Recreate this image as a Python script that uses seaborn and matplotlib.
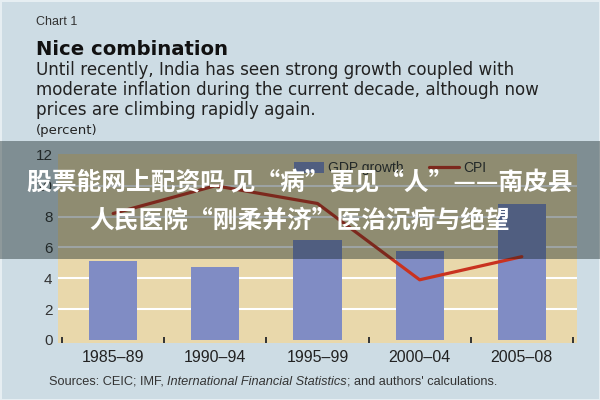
import matplotlib
matplotlib.use("Agg")
import matplotlib.pyplot as plt
from matplotlib.patches import Rectangle, Patch
from matplotlib.lines import Line2D
import seaborn as sns
import pandas as pd
import numpy as np

# ---- data ----
periods = ["1985–89", "1990–94", "1995–99", "2000–04", "2005–08"]
gdp_growth = [5.15, 4.7, 6.5, 5.75, 8.8]
cpi = [8.2, 10.0, 8.85, 3.9, 5.4]
y_ticks = [0, 2, 4, 6, 8, 10, 12]

chart_label = "Chart 1"
title = "Nice combination"
subtitle = ["Until recently, India has seen strong growth coupled with",
            "moderate inflation during the current decade, although now",
            "prices are climbing rapidly again."]
unit_label = "(percent)"
overlay_lines = ["股票能网上配资吗 见“病”更见“人”——南皮县",
                 "人民医院“刚柔并济”医治沉疴与绝望"]

BG = "#cddce4"
PLOT_BG = "#e9d8ab"
BAR = "#808cc4"
LINE = "#c9321f"
TXT = "#222222"

sns.set_theme(style="white")
plt.rcParams["font.family"] = ["Liberation Sans", "DejaVu Sans"]

df = pd.DataFrame({"period": periods, "gdp": gdp_growth, "cpi": cpi})

fig = plt.figure(figsize=(6, 4), dpi=100)
fig.patch.set_facecolor(BG)
fig.patch.set_edgecolor("#e6eef2")
fig.patch.set_linewidth(2)

ax = fig.add_axes([58 / 600, (400 - 343) / 400, 519 / 600, 189 / 400])
ax.set_facecolor(PLOT_BG)

sns.barplot(data=df, x="period", y="gdp", color=BAR, width=0.47,
            saturation=1, ax=ax, zorder=3, edgecolor="none", linewidth=0)
sns.lineplot(x=np.arange(len(periods)), y=df["cpi"], color=LINE,
             linewidth=2.3, ax=ax, zorder=4)

ax.set_xlim(-0.54, 4.54)
ax.set_ylim(-0.2, 12.06)
ax.set_yticks(y_ticks)
ax.set_yticklabels([str(v) for v in y_ticks])
ax.set_xlabel("")
ax.set_ylabel("")
for s in ax.spines.values():
    s.set_visible(False)

for v in y_ticks[1:-1]:
    ax.axhline(v, color="white", linewidth=1.5, zorder=1)

ax.tick_params(axis="y", length=0, pad=4, labelsize=11, labelcolor="#333333")
ax.tick_params(axis="x", which="major", length=0, pad=5, labelsize=11.5,
               labelcolor=TXT)
ax.set_xticks(np.arange(-0.5, len(periods)), minor=True)
ax.tick_params(axis="x", which="minor", direction="in", length=4, width=1.4,
               color="#333333", bottom=True)
ax.grid(False)

handles = [Patch(facecolor=BAR, edgecolor="none"),
           Line2D([0], [0], color=LINE, linewidth=2.3)]
leg = ax.legend(handles, ["GDP growth", "CPI"], ncol=2, frameon=False,
                loc="center", bbox_to_anchor=(0.64, 0.925), fontsize=10,
                handlelength=2.2, handleheight=0.8, handletextpad=0.3,
                columnspacing=1.8)
for t in leg.get_texts():
    t.set_color("#333333")

# ---- header text ----
fig.text(36 / 600, 1 - 22 / 400, chart_label, fontsize=9, color="#333333",
         va="center", ha="left")
fig.text(36 / 600, 1 - 55 / 400, title, fontsize=14.1, fontweight="bold",
         color="#111111", va="baseline", ha="left", family="DejaVu Sans")
for i, line in enumerate(subtitle):
    fig.text(36 / 600, 1 - (75 + 20 * i) / 400, line, fontsize=12.1,
             color=TXT, va="baseline", ha="left", family="DejaVu Sans")
fig.text(36 / 600, 1 - 134 / 400, unit_label, fontsize=9.5, color=TXT,
         va="baseline", ha="left", family="DejaVu Sans")

# ---- sources line with italic part ----
renderer = fig.canvas.get_renderer()
parts = [("Sources: CEIC; IMF, ", "normal"),
         ("International Financial Statistics", "italic"),
         ("; and authors' calculations.", "normal")]
x_px = 49
for txt, style in parts:
    t = fig.text(x_px / 600, 1 - 382 / 400, txt, fontsize=9.2, style=style,
                 color="#333333", va="center", ha="left")
    bb = t.get_window_extent(renderer=renderer)
    x_px += bb.width

# ---- overlay banner ----
fig.add_artist(Rectangle((0, (400 - 259) / 400), 1, 118 / 400,
                         transform=fig.transFigure, facecolor="#0a1a1a",
                         alpha=0.4, edgecolor="none", zorder=10))
for i, line in enumerate(overlay_lines):
    fig.text(0.5, 1 - (183 + 38 * i) / 400, line, fontsize=17.8,
             fontweight="bold", color="white", ha="center", va="center",
             family=["Noto Sans CJK SC", "DejaVu Sans"], zorder=11)

fig.savefig("out.png", dpi=100, facecolor=fig.get_facecolor(),
            edgecolor=fig.get_edgecolor())
